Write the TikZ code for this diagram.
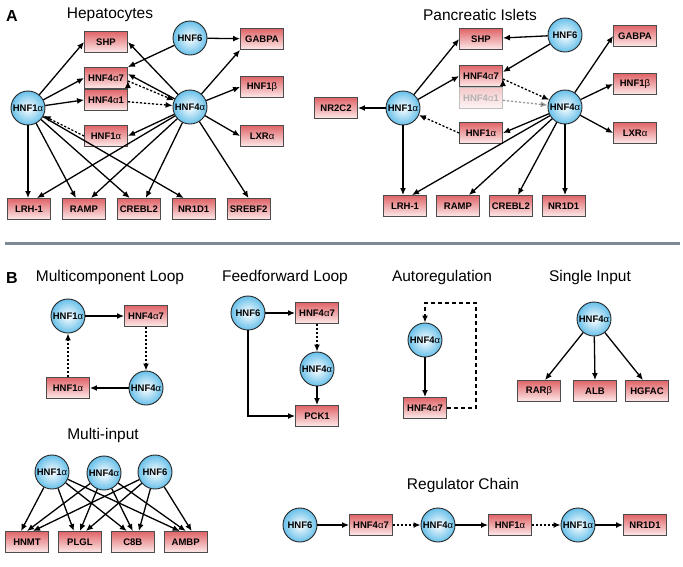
\documentclass[tikz,border=0pt]{standalone}
\usepackage{fontspec}
\setmainfont{Liberation Sans}
\usetikzlibrary{arrows, arrows.meta, shapes, positioning}

\definecolor{tfblue}{RGB}{104,192,234}
\definecolor{genetop}{RGB}{224,100,104}
\definecolor{genebot}{RGB}{253,234,234}
\definecolor{rulegray}{RGB}{128,138,150}
\newcommand{\Al}{{\mdseries α}}
\newcommand{\Be}{{\mdseries β}}

\begin{document}
\begin{tikzpicture}[x=1pt,y=-1pt,->,>={Latex[length=7pt,width=6pt]},line width=1.3pt]

	\tikzset{tf st/.style={circle, draw=black!85, line width=0.9pt,
			inner sep=0pt, minimum size=34pt,
			inner color=white, outer color=tfblue,
			font=\fontsize{9.5}{10}\selectfont\bfseries},
		gene st/.style={rectangle, draw=black!70, line width=0.9pt,
			inner sep=1pt, minimum width=43pt, minimum height=21pt,
			top color=genetop, bottom color=genebot,
			font=\fontsize{9.5}{10}\selectfont\bfseries},
		gene faded/.style={gene st, draw=black!25,
			top color=genetop!35!white, bottom color=genebot!50!white,
			text=black!30},
		title st/.style={font=\fontsize{15.5}{17}\selectfont},
		panel st/.style={font=\fontsize{16}{18}\selectfont\bfseries},
		weak/.style={dash pattern=on 2.2pt off 1.8pt},
		weak faded/.style={weak, draw=black!40},
		self loop/.style={dash pattern=on 4pt off 3pt}}

	\useasboundingbox (0,0) rectangle (683,566);

	% A: hepatocytes
	\node[panel st] (labA) at (12,16) {A};
	\node[title st] (hepTitle) at (110,15) {Hepatocytes};
	\node[tf st] (hepF1) at (28,108) {HNF1\Al};
	\node[gene st] (hepSHP) at (106,42) {SHP};
	\node[gene st] (hepA7) at (106,78) {HNF4\Al7};
	\node[gene st, below=0pt of hepA7] (hepA1) {HNF4\Al1};
	\node[gene st] (hepF1a) at (106,136) {HNF1\Al};
	\node[tf st] (hepF6) at (190,38) {HNF6};
	\node[tf st] (hepF4) at (190,107) {HNF4\Al};
	\node[gene st] (hepGAB) at (262,39) {GABPA};
	\node[gene st] (hepF1b) at (262,87) {HNF1\Be};
	\node[gene st] (hepLXR) at (262,136) {LXR\Al};
	\node[gene st] (hepLRH) at (29,209) {LRH-1};
	\node[gene st, right=11pt of hepLRH] (hepRAMP) {RAMP};
	\node[gene st, right=11pt of hepRAMP] (hepCRE) {CREBL2};
	\node[gene st, right=11pt of hepCRE] (hepNR) {NR1D1};
	\node[gene st, right=11pt of hepNR] (hepSRE) {SREBF2};

	\draw (hepF1) edge (hepSHP.west)
	(hepF1) edge (hepA7.west)
	(hepF1) edge (hepA1.west)
	(hepF6) edge (hepA7.north east)
	(hepF6) edge (hepGAB)
	(hepF4) edge (hepSHP.east)
	(hepF4) edge ([yshift=4pt]hepA7.east)
	(hepF4) edge (hepGAB.south west)
	(hepF4) edge (hepF1b.west)
	(hepF4) edge (hepLXR.west)
	(hepF4) edge (hepF1a.east);
	\draw[weak] (hepF1a.west) edge (hepF1)
	([yshift=-3pt]hepA7.east) edge (hepF4)
	(hepA1) edge (hepF4);
	\draw (hepF1) edge (hepF1 |- hepLRH.north)
	(hepF1) edge ([xshift=-8pt]hepRAMP.north)
	(hepF1) edge ([xshift=-9pt]hepCRE.north)
	(hepF1) edge ([xshift=-10pt]hepNR.north)
	(hepF4) edge ([xshift=8pt]hepLRH.north)
	(hepF4) edge ([xshift=7pt]hepRAMP.north)
	(hepF4) edge ([xshift=7pt]hepCRE.north)
	(hepF4) edge (hepSRE.north);

	% A: pancreatic islets
	\node[title st] (panTitle) at (480,15) {Pancreatic Islets};
	\node[gene st] (panNR2) at (336,108) {NR2C2};
	\node[tf st] (panF1) at (403,108) {HNF1\Al};
	\node[gene st] (panSHP) at (481,39) {SHP};
	\node[gene st] (panA7) at (481,76) {HNF4\Al7};
	\node[gene faded, below=0pt of panA7] (panA1) {HNF4\Al1};
	\node[gene st] (panF1a) at (481,133) {HNF1\Al};
	\node[tf st] (panF6) at (565,35) {HNF6};
	\node[tf st] (panF4) at (565,107) {HNF4\Al};
	\node[gene st] (panGAB) at (635,36) {GABPA};
	\node[gene st] (panF1b) at (635,84) {HNF1\Be};
	\node[gene st] (panLXR) at (635,133) {LXR\Al};
	\node[gene st] (panLRH) at (405,206) {LRH-1};
	\node[gene st, right=9pt of panLRH] (panRAMP) {RAMP};
	\node[gene st, right=9pt of panRAMP] (panCRE) {CREBL2};
	\node[gene st, right=9pt of panCRE] (panNR) {NR1D1};

	\draw (panF1) edge (panNR2)
	(panF1) edge (panSHP.west)
	(panF1) edge (panA7.west)
	(panF6) edge (panSHP)
	(panF6) edge ([yshift=4pt]panA7.east)
	(panF4) edge (panGAB.west)
	(panF4) edge (panF1b.west)
	(panF4) edge (panLXR.west)
	(panF4) edge (panF1a.east);
	\draw[weak] (panF1a.west) edge (panF1)
	([yshift=-3pt]panA7.east) edge (panF4);
	\draw[weak faded] (panA1) edge (panF4);
	\draw (panF1) edge (panF1 |- panLRH.north)
	(panF4) edge ([xshift=7pt]panLRH.north)
	(panF4) edge ([xshift=11pt]panRAMP.north)
	(panF4) edge ([xshift=7pt]panCRE.north)
	(panF4) edge (panF4 |- panNR.north);

	\draw[-, rulegray, line width=3pt] (5,243) -- (680,243);

	% B: motifs
	\node[panel st] (labB) at (12,278) {B};
	\node[title st] (mcTitle) at (110,277) {Multicomponent Loop};
	\node[title st] (ffTitle) at (285,277) {Feedforward Loop};
	\node[title st] (arTitle) at (442,277) {Autoregulation};
	\node[title st] (siTitle) at (590,277) {Single Input};

	\node[tf st] (mcF1) at (68,316) {HNF1\Al};
	\node[gene st] (mcA7) at (146,316) {HNF4\Al7};
	\node[tf st] (mcF4) at (146,388) {HNF4\Al};
	\node[gene st] (mcF1a) at (68,388) {HNF1\Al};
	\draw (mcF1) edge (mcA7) (mcF4) edge (mcF1a);
	\draw[weak] (mcA7) edge (mcF4) (mcF1a) edge (mcF1);

	\node[tf st] (ffF6) at (248,313) {HNF6};
	\node[gene st] (ffA7) at (317,313) {HNF4\Al7};
	\node[tf st] (ffF4) at (317,369) {HNF4\Al};
	\node[gene st] (ffPCK) at (317,416) {PCK1};
	\draw (ffF6) edge (ffA7) (ffF4) edge (ffPCK);
	\draw[weak] (ffA7) edge (ffF4);
	\draw (ffF6.south) |- (ffPCK.west);

	\node[tf st] (arF4) at (425,340) {HNF4\Al};
	\node[gene st] (arA7) at (425,408) {HNF4\Al7};
	\coordinate (arTurn) at (476,303);
	\draw (arF4) edge (arA7);
	\draw[self loop] (arA7.east) -| (arTurn) -| (arF4.north);

	\node[tf st] (siF4) at (594,319) {HNF4\Al};
	\node[gene st] (siRAR) at (539,391) {RAR\Be};
	\node[gene st] (siALB) at (595,391) {ALB};
	\node[gene st] (siHGF) at (647,391) {HGFAC};
	\draw (siF4) edge ([xshift=6pt]siRAR.north)
	(siF4) edge (siALB.north)
	(siF4) edge ([xshift=-4pt]siHGF.north);

	\node[title st] (miTitle) at (103,435) {Multi-input};
	\node[tf st] (miF1) at (52,472) {HNF1\Al};
	\node[tf st] (miF4) at (104,473) {HNF4\Al};
	\node[tf st] (miF6) at (155,472) {HNF6};
	\node[gene st] (miHN) at (27,542) {HNMT};
	\node[gene st, right=9pt of miHN] (miPL) {PLGL};
	\node[gene st, right=9pt of miPL] (miC8) {C8B};
	\node[gene st, right=9pt of miC8] (miAM) {AMBP};
	\draw (miF1) edge ([xshift=-6pt]miHN.north)
	(miF1) edge ([xshift=-6pt]miPL.north)
	(miF1) edge ([xshift=-6pt]miC8.north)
	(miF1) edge ([xshift=-6pt]miAM.north)
	(miF4) edge (miHN.north)
	(miF4) edge (miPL.north)
	(miF4) edge (miC8.north)
	(miF4) edge (miAM.north)
	(miF6) edge ([xshift=6pt]miHN.north)
	(miF6) edge ([xshift=6pt]miPL.north)
	(miF6) edge ([xshift=6pt]miC8.north)
	(miF6) edge ([xshift=6pt]miAM.north);

	\node[title st] (rcTitle) at (463,485) {Regulator Chain};
	\node[tf st] (rcF6) at (300,525) {HNF6};
	\node[gene st] (rcA7) at (371,525) {HNF4\Al7};
	\node[tf st] (rcF4) at (438,525) {HNF4\Al};
	\node[gene st] (rcF1a) at (510,525) {HNF1\Al};
	\node[tf st] (rcF1) at (578,525) {HNF1\Al};
	\node[gene st] (rcNR) at (645,525) {NR1D1};
	\draw (rcF6) edge (rcA7) (rcF4) edge (rcF1a) (rcF1) edge (rcNR);
	\draw[weak] (rcA7) edge (rcF4) (rcF1a) edge (rcF1);

\end{tikzpicture}
\end{document}
